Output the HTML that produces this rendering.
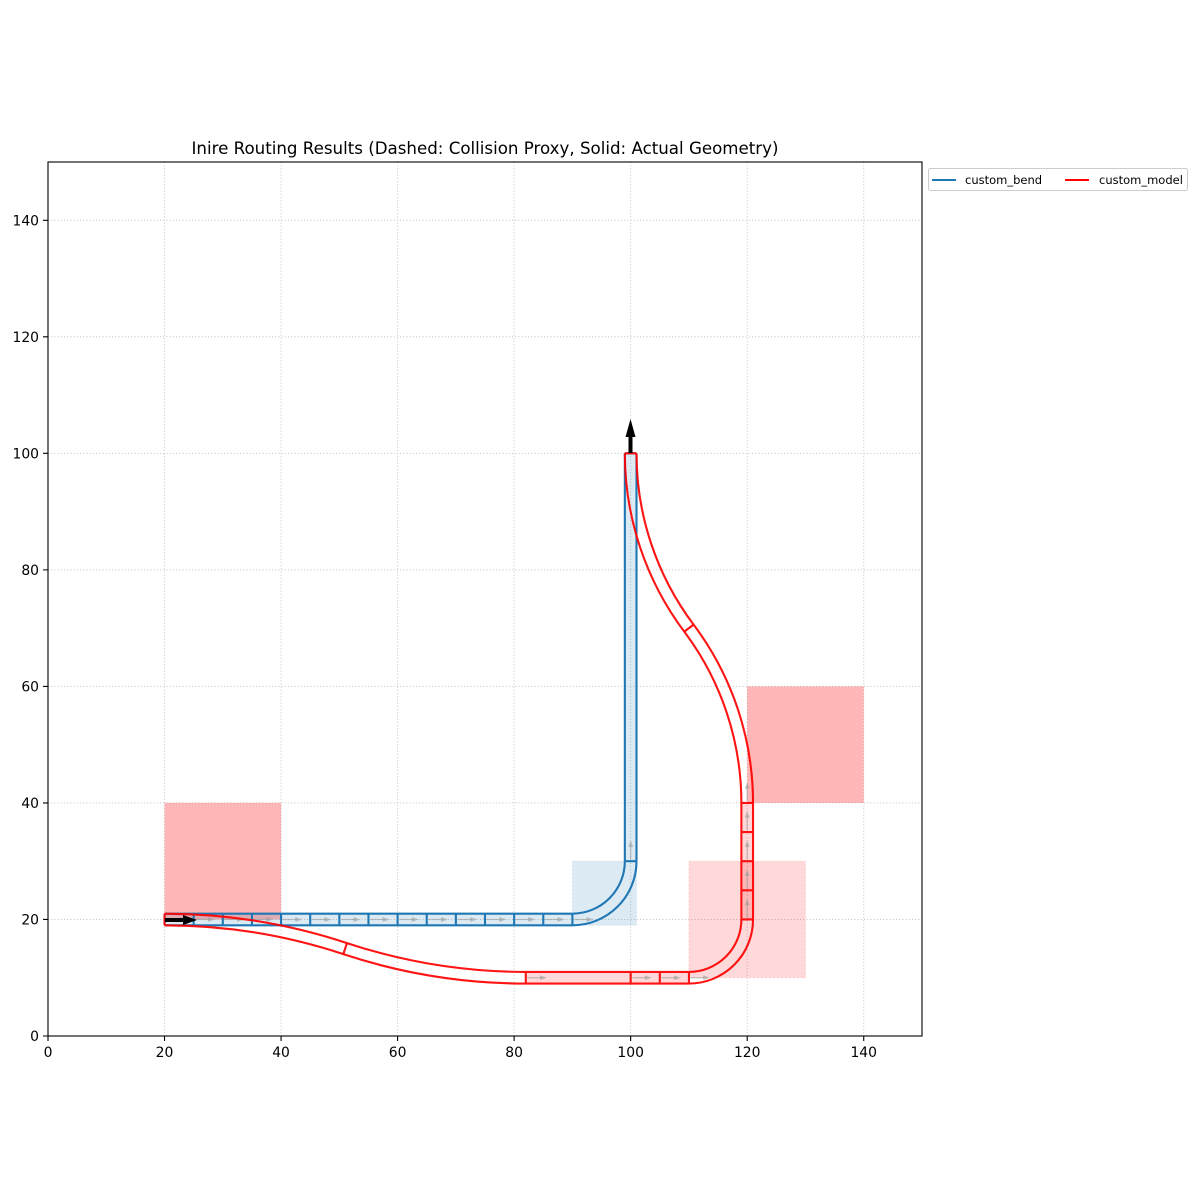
<!DOCTYPE html>
<html><head><meta charset="utf-8"><style>
html,body{margin:0;padding:0;background:#fff;}
svg{display:block;}
text{font-family:"DejaVu Sans","Liberation Sans",sans-serif;fill:#000;}
</style></head><body>
<svg width="1200" height="1200" viewBox="0 0 1200 1200" xmlns="http://www.w3.org/2000/svg">
<defs>
<clipPath id="ax"><rect x="48" y="162" width="874" height="874"/></clipPath>
<g id="ga">
<path d="M0.3 0H2.7" stroke="#999" stroke-opacity="0.6" stroke-width="1.2" vector-effect="non-scaling-stroke" fill="none"/>
<path d="M3.6 0L2.45 0.42L2.45 -0.42Z" fill="#999" fill-opacity="0.6"/>
</g>
</defs>
<rect width="1200" height="1200" fill="#fff"/>
<!-- grid -->
<g stroke="#c4c4c4" stroke-width="1" stroke-dasharray="1,2.2">
<path d="M164.53 162V1036M281.07 162V1036M397.6 162V1036M514.13 162V1036M630.67 162V1036M747.2 162V1036M863.73 162V1036"/>
<path d="M48 919.47H922M48 802.93H922M48 686.4H922M48 569.87H922M48 453.33H922M48 336.8H922M48 220.27H922"/>
</g>
<g clip-path="url(#ax)">
<g transform="translate(48,1036) scale(5.826667,-5.826667)">
<!-- obstacles -->
<rect x="20" y="20" width="20" height="20" fill="#ff0000" fill-opacity="0.286"/>
<rect x="120" y="40" width="20" height="20" fill="#ff0000" fill-opacity="0.286"/>
<!-- proxies -->
<rect x="110" y="10" width="20" height="20" fill="#ff0000" fill-opacity="0.15" stroke="#ff0000" stroke-opacity="0.12" stroke-dasharray="2,2" stroke-width="1" vector-effect="non-scaling-stroke"/>
<rect x="90" y="19" width="11" height="11" fill="#1f77b4" fill-opacity="0.155" stroke="#1f77b4" stroke-opacity="0.12" stroke-dasharray="2,2" stroke-width="1" vector-effect="non-scaling-stroke"/>
<!-- straight fills -->
<rect x="20" y="19" width="70" height="2" fill="#1f77b4" fill-opacity="0.155"/>
<rect x="99" y="30" width="2" height="70" fill="#1f77b4" fill-opacity="0.155"/>
<rect x="82" y="9" width="28" height="2" fill="#ff0000" fill-opacity="0.15"/>
<rect x="119" y="20" width="2" height="20" fill="#ff0000" fill-opacity="0.15"/>
<!-- gray arrows -->
<use href="#ga" transform="translate(25,20)"/>
<use href="#ga" transform="translate(30,20)"/>
<use href="#ga" transform="translate(35,20)"/>
<use href="#ga" transform="translate(40,20)"/>
<use href="#ga" transform="translate(45,20)"/>
<use href="#ga" transform="translate(50,20)"/>
<use href="#ga" transform="translate(55,20)"/>
<use href="#ga" transform="translate(60,20)"/>
<use href="#ga" transform="translate(65,20)"/>
<use href="#ga" transform="translate(70,20)"/>
<use href="#ga" transform="translate(75,20)"/>
<use href="#ga" transform="translate(80,20)"/>
<use href="#ga" transform="translate(85,20)"/>
<use href="#ga" transform="translate(90,20)"/>
<use href="#ga" transform="translate(100,30) rotate(90)"/>
<use href="#ga" transform="translate(82,10)"/>
<use href="#ga" transform="translate(100,10)"/>
<use href="#ga" transform="translate(105,10)"/>
<use href="#ga" transform="translate(110,10)"/>
<use href="#ga" transform="translate(120,20) rotate(90)"/>
<use href="#ga" transform="translate(120,25) rotate(90)"/>
<use href="#ga" transform="translate(120,30) rotate(90)"/>
<use href="#ga" transform="translate(120,35) rotate(90)"/>
<use href="#ga" transform="translate(120,40) rotate(90)"/>
<!-- blue geometry -->
<g fill="none" stroke="#1f77b4" stroke-width="2.1" vector-effect="non-scaling-stroke">
<path vector-effect="non-scaling-stroke" d="M20 21H90M20 19H90"/>
<path vector-effect="non-scaling-stroke" d="M20 19V21M25 19V21M30 19V21M35 19V21M40 19V21M45 19V21M50 19V21M55 19V21M60 19V21M65 19V21M70 19V21M75 19V21M80 19V21M85 19V21M90 19V21"/>
<path vector-effect="non-scaling-stroke" d="M90 19A11 11 0 0 1 101 30M90 21A9 9 0 0 1 99 30"/>
<path vector-effect="non-scaling-stroke" d="M99 30V100M101 30V100M99 30H101M99 100H101"/>
</g>
<!-- red geometry -->
<g fill="none" stroke="#ff0000" stroke-opacity="0.92" stroke-width="2.1">
<path vector-effect="non-scaling-stroke" d="M20 21A99.594 99.594 0 0 0 51.314 15.949A97.594 97.594 0 0 1 82 11"/>
<path vector-effect="non-scaling-stroke" d="M20 19A97.594 97.594 0 0 0 50.686 14.050A99.594 99.594 0 0 1 82 9"/>
<path vector-effect="non-scaling-stroke" d="M20 19V21M51.314 15.949L50.686 14.050"/>
<path vector-effect="non-scaling-stroke" d="M82 11H110M82 9H110M82 9V11M100 9V11M105 9V11M110 9V11"/>
<path vector-effect="non-scaling-stroke" d="M110 9A11 11 0 0 1 121 20M110 11A9 9 0 0 1 119 20"/>
<path vector-effect="non-scaling-stroke" d="M119 20V40M121 20V40M119 20H121M119 25H121M119 30H121M119 35H121M119 40H121"/>
<path vector-effect="non-scaling-stroke" d="M121 40A51 51 0 0 1 110.8 70.6A49 49 0 0 0 101 100"/>
<path vector-effect="non-scaling-stroke" d="M119 40A49 49 0 0 1 109.2 69.4A51 51 0 0 0 99 100"/>
<path vector-effect="non-scaling-stroke" d="M110.8 70.6L109.2 69.4M99 100H101"/>
</g>
</g>
<!-- black arrows -->
<rect x="165" y="918" width="20" height="4" fill="#000"/>
<path d="M183 915L197 920L183 925Z" fill="#000"/>
<rect x="628.5" y="435" width="4" height="18" fill="#000"/>
<path d="M625.5 437L630.5 419L635.5 437Z" fill="#000"/>
</g>
<!-- spines -->
<rect x="48" y="162" width="874" height="874" fill="none" stroke="#000" stroke-width="1.1"/>
<!-- ticks -->
<g stroke="#000" stroke-width="1.1">
<path d="M48 1036v5M164.53 1036v5M281.07 1036v5M397.6 1036v5M514.13 1036v5M630.67 1036v5M747.2 1036v5M863.73 1036v5"/>
<path d="M48 1036h-5M48 919.47h-5M48 802.93h-5M48 686.4h-5M48 569.87h-5M48 453.33h-5M48 336.8h-5M48 220.27h-5"/>
</g>
<g font-size="13.9" text-anchor="middle">
<text x="48" y="1057">0</text>
<text x="164.53" y="1057">20</text>
<text x="281.07" y="1057">40</text>
<text x="397.6" y="1057">60</text>
<text x="514.13" y="1057">80</text>
<text x="630.67" y="1057">100</text>
<text x="747.2" y="1057">120</text>
<text x="863.73" y="1057">140</text>
</g>
<g font-size="13.9" text-anchor="end">
<text x="39" y="1041">0</text>
<text x="39" y="924.47">20</text>
<text x="39" y="807.93">40</text>
<text x="39" y="691.4">60</text>
<text x="39" y="574.87">80</text>
<text x="39" y="458.33">100</text>
<text x="39" y="341.8">120</text>
<text x="39" y="225.27">140</text>
</g>
<text x="485" y="154" font-size="16.67" text-anchor="middle">Inire Routing Results (Dashed: Collision Proxy, Solid: Actual Geometry)</text>
<!-- legend -->
<rect x="928.5" y="168.5" width="259" height="22" rx="2" fill="#fff" fill-opacity="0.8" stroke="#cccccc" stroke-width="1"/>
<path d="M932 180H956" stroke="#1f77b4" stroke-width="2"/>
<text x="965" y="184" font-size="11.5">custom_bend</text>
<path d="M1065 180H1089" stroke="#ff0000" stroke-width="2"/>
<text x="1099" y="184" font-size="11.5">custom_model</text>
</svg>
</body></html>
